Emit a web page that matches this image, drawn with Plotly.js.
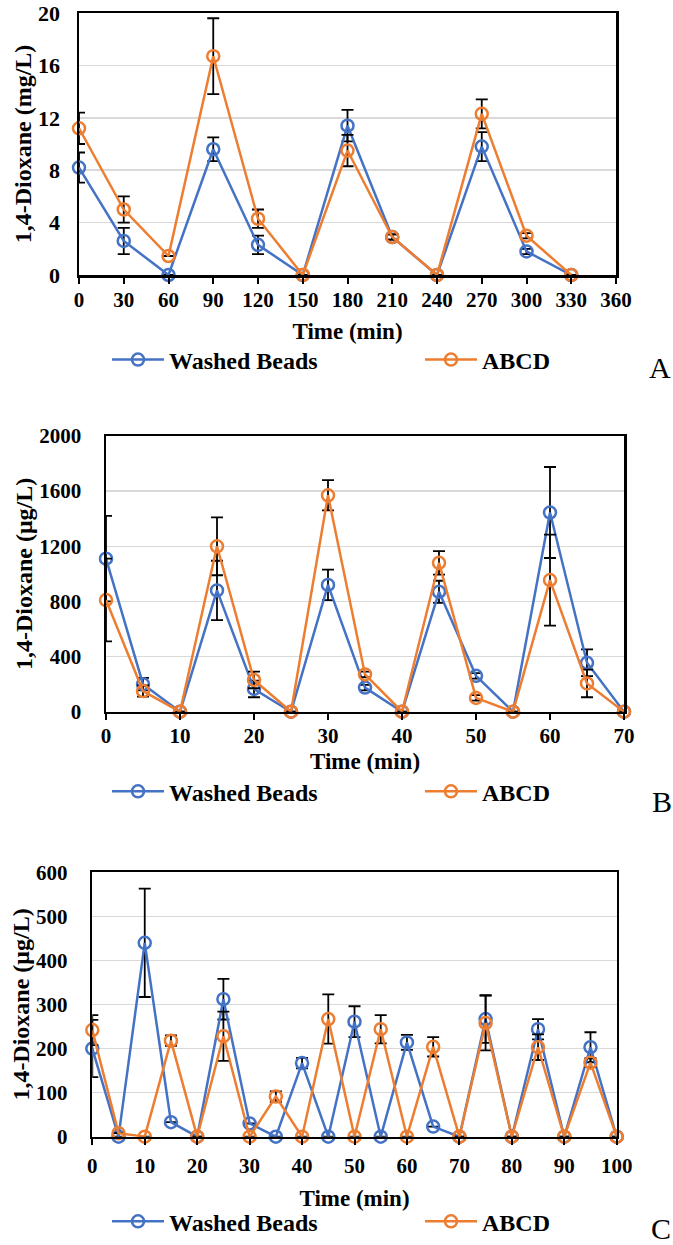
<!DOCTYPE html>
<html>
<head>
<meta charset="utf-8">
<script src="https://cdn.plot.ly/plotly-3.0.1.min.js"></script>
<style>
html,body{margin:0;padding:0;background:#fff;}
#chart{width:673px;height:1245px;}
</style>
</head>
<body>
<div id="chart"></div>
<script>
// ---------- Data ----------
// Panel A (mg/L)
const timeA = [0, 30, 60, 90, 120, 150, 180, 210, 240, 270, 300, 330];
const washedA = [8.2, 2.6, 0, 9.6, 2.3, 0, 11.4, 2.9, 0, 9.8, 1.8, 0];
const washedAErr = [1.15, 1.0, null, 0.9, 0.7, null, 1.2, 0.2, null, 1.1, 0.2, null];
const abcdA = [11.2, 5.0, 1.45, 16.7, 4.3, 0, 9.5, 2.9, 0, 12.3, 3.0, 0];
const abcdAErr = [1.2, 1.0, null, 2.9, 0.7, null, 1.2, 0.2, null, 1.1, 0.2, null];

// Panel B (µg/L)
const timeB = [0, 5, 10, 15, 20, 25, 30, 35, 40, 45, 50, 55, 60, 65, 70];
const washedB = [1110, 200, 0, 880, 165, 0, 920, 175, 0, 870, 260, 0, 1445, 355, 0];
const washedBErr = [310, 45, null, 215, 60, null, 110, 20, null, 80, 20, null, 330, 97, null];
const abcdB = [810, 150, 0, 1200, 230, 0, 1570, 270, 0, 1080, 100, 0, 955, 205, 0];
const abcdBErr = [300, 40, null, 210, 60, null, 110, 20, null, 85, 20, null, 330, 100, null];

// Panel C (µg/L)
const timeC = [0, 5, 10, 15, 20, 25, 30, 35, 40, 45, 50, 55, 60, 65, 70, 75, 80, 85, 90, 95, 100];
const washedC = [200, 0, 440, 33, 0, 312, 30, 0, 167, 0, 261, 0, 214, 23, 0, 267, 0, 244, 0, 203, 0];
const washedCErr = [65, null, 123, null, null, 46, null, null, 12, null, 35, null, 17, null, null, 54, null, 23, null, 34, null];
const abcdC = [242, 8, 0, 218, 0, 228, 0, 91, 0, 267, 0, 244, 0, 204, 0, 258, 0, 203, 0, 168, 0];
const abcdCErr = [34, null, null, 12, null, 56, null, 12, null, 56, null, 32, null, 22, null, 62, null, 29, null, 10, null];

const seriesNames = ['Washed Beads', 'ABCD'];
const panelLetters = ['A', 'B', 'C'];
const yTitles = ['1,4-Dioxane (mg/L)', '1,4-Dioxane (\u03bcg/L)', '1,4-Dioxane (\u03bcg/L)'];
const xTitle = 'Time (min)';

// ---------- Styling ----------
const W = 673, H = 1245;
const BLUE = '#4472C4', ORANGE = '#ED7D31';
const FONT = '"Liberation Serif", "Times New Roman", Times, serif';
const px = v => v / W;
const py = v => 1 - v / H;
const LEGW = [246, 80];

function trace(x, y, err, k, color, n, leg) {
  return {
    x: x, y: y, name: seriesNames[k], type: 'scatter', mode: 'lines+markers',
    xaxis: 'x' + (n === 1 ? '' : n), yaxis: 'y' + (n === 1 ? '' : n),
    legend: leg, legendwidth: LEGW[k], cliponaxis: false,
    line: {color: color, width: 2.5},
    marker: {symbol: 'circle-open', size: 12, color: color, line: {color: color, width: 2.5}},
    error_y: {type: 'data', array: err, visible: true, color: '#000', thickness: 1.8, width: 6}
  };
}

const data = [
  trace(timeA, washedA, washedAErr, 0, BLUE, 1, 'legend'),
  trace(timeA, abcdA, abcdAErr, 1, ORANGE, 1, 'legend'),
  trace(timeB, washedB, washedBErr, 0, BLUE, 2, 'legend2'),
  trace(timeB, abcdB, abcdBErr, 1, ORANGE, 2, 'legend2'),
  trace(timeC, washedC, washedCErr, 0, BLUE, 3, 'legend3'),
  trace(timeC, abcdC, abcdCErr, 1, ORANGE, 3, 'legend3')
];

function xAxis(l, r, anchor, range, dtick, lblOff, titleOff) {
  return {
    domain: [px(l), px(r)], anchor: anchor, range: range, dtick: dtick, tick0: 0,
    showline: true, linecolor: '#000', linewidth: 2.5, mirror: true,
    showgrid: false, zeroline: false,
    ticks: 'outside', ticklen: 6, tickwidth: 2, tickcolor: '#000',
    ticklabelstandoff: lblOff,
    tickfont: {family: FONT, size: 21, color: '#000', weight: 'bold'},
    title: {text: xTitle, font: {family: FONT, size: 23, color: '#000', weight: 'bold'}, standoff: titleOff},
    automargin: false, fixedrange: true
  };
}
function yAxis(t, b, anchor, range, dtick, title, lblOff, titleOff, fs) {
  return {
    domain: [py(b), py(t)], anchor: anchor, range: range, dtick: dtick, tick0: 0,
    showline: true, linecolor: '#000', linewidth: 2.5, mirror: true,
    showgrid: true, gridcolor: '#D9D9D9', gridwidth: 1.5, zeroline: false,
    ticks: '', ticklabelstandoff: lblOff,
    tickfont: {family: FONT, size: fs, color: '#000', weight: 'bold'},
    title: {text: title, font: {family: FONT, size: 24, color: '#000', weight: 'bold'}, standoff: titleOff},
    automargin: false, fixedrange: true
  };
}
function legendAt(yPix) {
  return {
    orientation: 'h', x: px(107), y: py(yPix), xanchor: 'left', yanchor: 'middle',
    font: {family: FONT, size: 24, color: '#000', weight: 'bold'},
    bgcolor: 'rgba(0,0,0,0)', borderwidth: 0, itemwidth: 52, traceorder: 'normal'
  };
}

const layout = {
  width: W, height: H,
  margin: {l: 0, r: 0, t: 0, b: 0, autoexpand: false},
  paper_bgcolor: '#fff', plot_bgcolor: '#fff',
  showlegend: true,
  font: {family: FONT, color: '#000'},
  xaxis: xAxis(79, 616, 'y', [0, 360], 30, -2, 12),
  yaxis: yAxis(13, 275, 'x', [0, 20], 4, yTitles[0], 12, 0, 22),
  xaxis2: xAxis(106, 624, 'y2', [0, 70], 10, -2, 6),
  yaxis2: yAxis(436, 711.7, 'x2', [0, 2000], 400, yTitles[1], 18, 0, 21),
  yaxis3: yAxis(872.3, 1136.7, 'x3', [0, 600], 100, yTitles[2], 18, 0, 21),
  xaxis3: xAxis(92.3, 616.7, 'y3', [0, 100], 10, 3, 13),
  legend: legendAt(360),
  legend2: legendAt(791.7),
  legend3: legendAt(1221.7),
  annotations: [
    {text: panelLetters[0], x: px(660), y: py(368), xref: 'paper', yref: 'paper', showarrow: false, xanchor: 'center', yanchor: 'middle', font: {family: FONT, size: 30, color: '#000'}},
    {text: panelLetters[1], x: px(662), y: py(801), xref: 'paper', yref: 'paper', showarrow: false, xanchor: 'center', yanchor: 'middle', font: {family: FONT, size: 30, color: '#000'}},
    {text: panelLetters[2], x: px(661), y: py(1228), xref: 'paper', yref: 'paper', showarrow: false, xanchor: 'center', yanchor: 'middle', font: {family: FONT, size: 30, color: '#000'}}
  ]
};

Plotly.newPlot('chart', data, layout, {displayModeBar: false, staticPlot: true});
</script>
</body>
</html>
